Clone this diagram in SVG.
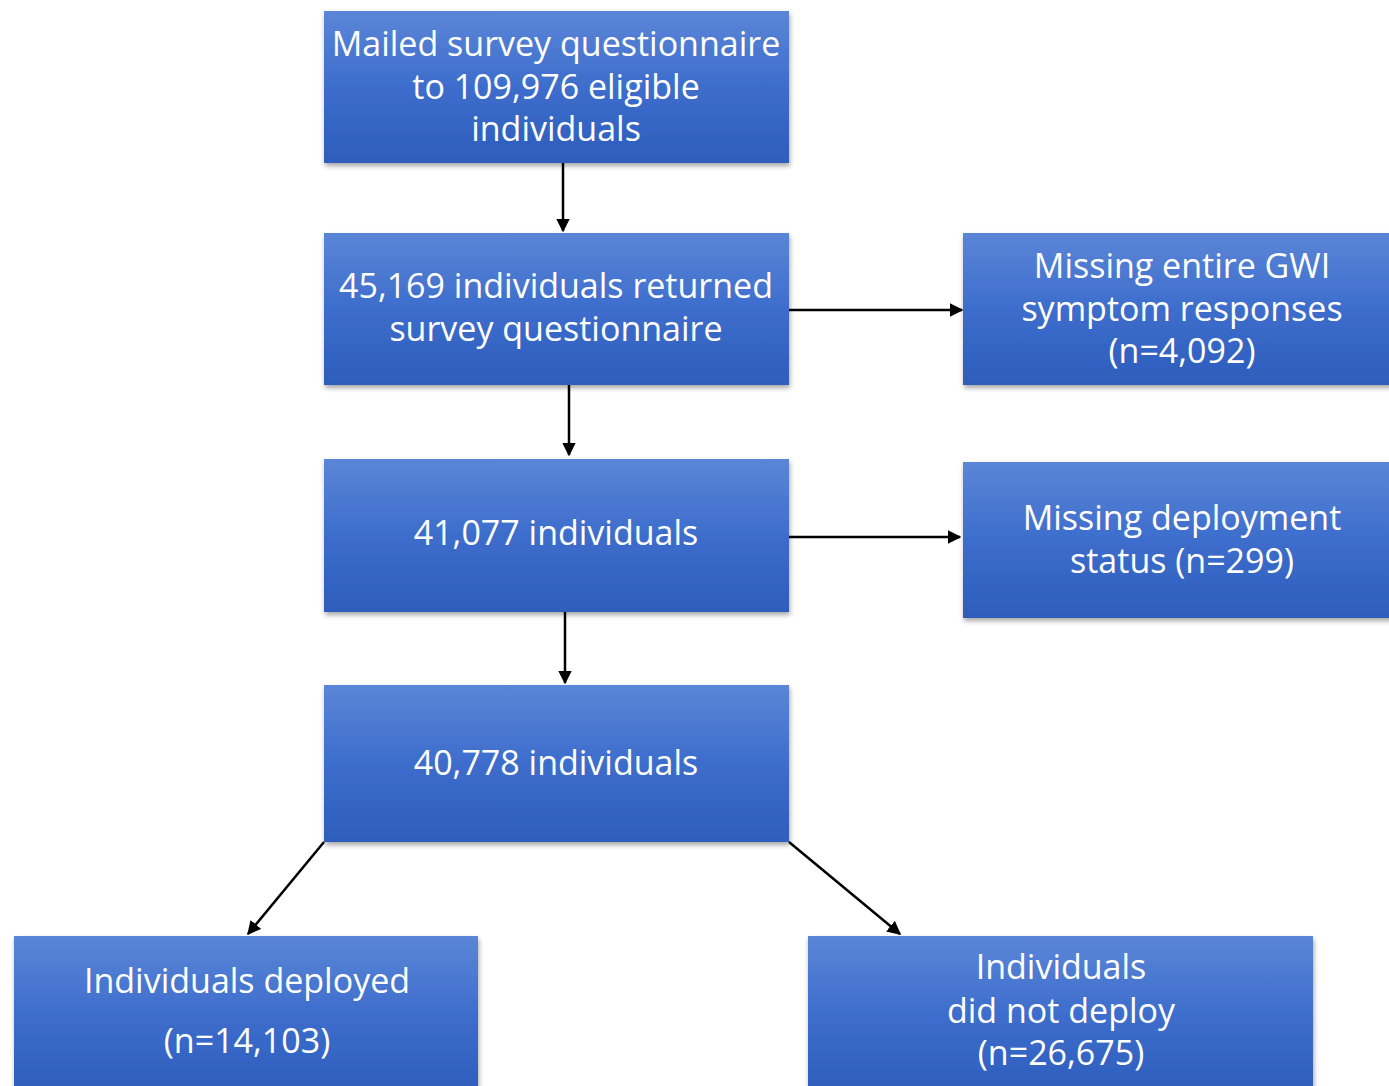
<svg xmlns="http://www.w3.org/2000/svg" width="1389" height="1086" viewBox="0 0 1389 1086">
<style>
.box{fill:url(#g);filter:url(#sh)}
.t{font-family:"Open Sans","Noto Sans",sans-serif;font-size:34px;fill:#ffffff;text-anchor:middle}
.c{stroke:#000;stroke-width:2.5;fill:none;marker-end:url(#ah)}
</style>
<defs>
<linearGradient id="g" x1="0" y1="0" x2="0" y2="1">
<stop offset="0" stop-color="#5B86D7"/>
<stop offset="0.5" stop-color="#3D6DCC"/>
<stop offset="1" stop-color="#2E5DBC"/>
</linearGradient>
<filter id="sh" x="-5%" y="-5%" width="115%" height="120%">
<feDropShadow dx="1" dy="3" stdDeviation="2.5" flood-color="#000" flood-opacity="0.35"/>
</filter>
<marker id="ah" viewBox="0 0 10 10" refX="9" refY="5" markerWidth="5.5" markerHeight="5.5" orient="auto" markerUnits="strokeWidth">
<path d="M0,0 L10,5 L0,10 z" fill="#000"/>
</marker>
</defs>
<rect width="1389" height="1086" fill="#fff"/>
<g id="connectors">
<line class="c" x1="563" y1="163" x2="563" y2="231"/>
<line class="c" x1="569" y1="385" x2="569" y2="455"/>
<line class="c" x1="565" y1="612" x2="565" y2="683"/>
<line class="c" x1="789" y1="310" x2="962" y2="310"/>
<line class="c" x1="785" y1="537" x2="960" y2="537"/>
<line class="c" x1="324" y1="842" x2="248" y2="934"/>
<line class="c" x1="789" y1="842" x2="900" y2="934"/>
</g>
<g id="n1"><rect class="box" x="324" y="11" width="465" height="152"/>
<text class="t" x="556" y="56">Mailed survey questionnaire</text>
<text class="t" x="556" y="99">to 109,976 eligible</text>
<text class="t" x="556" y="141">individuals</text></g>
<g id="n2"><rect class="box" x="324" y="233" width="465" height="152"/>
<text class="t" x="556" y="298">45,169 individuals returned</text>
<text class="t" x="556" y="341">survey questionnaire</text></g>
<g id="n3"><rect class="box" x="324" y="459" width="465" height="153"/>
<text class="t" x="556" y="545">41,077 individuals</text></g>
<g id="n4"><rect class="box" x="324" y="685" width="465" height="157"/>
<text class="t" x="556" y="775">40,778 individuals</text></g>
<g id="r1"><rect class="box" x="963" y="233" width="430" height="152"/>
<text class="t" x="1182" y="278">Missing entire GWI</text>
<text class="t" x="1182" y="321">symptom responses</text>
<text class="t" x="1182" y="363">(n=4,092)</text></g>
<g id="r2"><rect class="box" x="963" y="462" width="430" height="156"/>
<text class="t" x="1182" y="530">Missing deployment</text>
<text class="t" x="1182" y="573">status (n=299)</text></g>
<g id="b1"><rect class="box" x="14" y="936" width="464" height="160"/>
<text class="t" x="247" y="993">Individuals deployed</text>
<text class="t" x="247" y="1053">(n=14,103)</text></g>
<g id="b2"><rect class="box" x="808" y="936" width="505" height="160"/>
<text class="t" x="1061" y="979">Individuals</text>
<text class="t" x="1061" y="1023">did not deploy</text>
<text class="t" x="1061" y="1065">(n=26,675)</text></g>
</svg>
